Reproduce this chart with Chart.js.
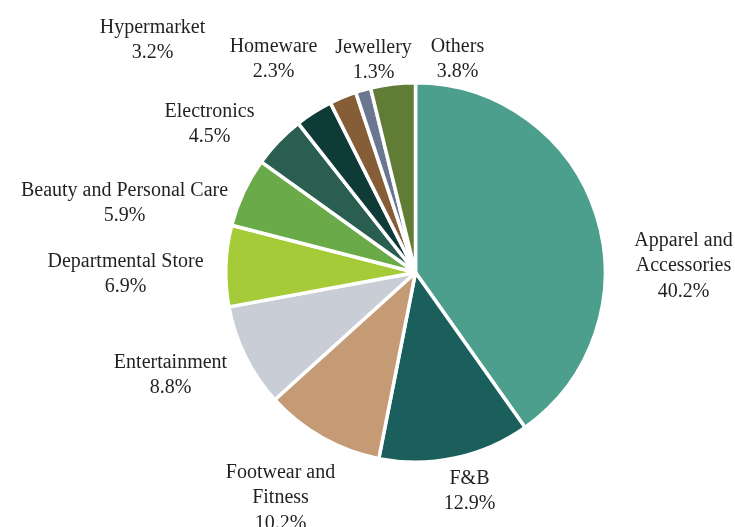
<!DOCTYPE html>
<html lang="en">

<head>
    <meta charset="UTF-8">
    <title>Retail Mix</title>
    <script src="https://cdn.jsdelivr.net/npm/chart.js"></script>
    <style>
        body {
            margin: 0;
            padding: 0;
            background: #ffffff;
        }

        #chart-container {
            position: relative;
            width: 735px;
            height: 527px;
        }
    </style>
</head>

<body>
    <div id="chart-container">
        <canvas id="chart"></canvas>
    </div>

    <script>
        // Data
        var categories = ['Apparel and Accessories', 'F&B', 'Footwear and Fitness', 'Entertainment',
            'Departmental Store', 'Beauty and Personal Care', 'Electronics', 'Hypermarket',
            'Homeware', 'Jewellery', 'Others'];
        var shares = [40.2, 12.9, 10.2, 8.8, 6.9, 5.9, 4.5, 3.2, 2.3, 1.3, 3.8];

        // how each label is broken into lines
        var labelLines = [['Apparel and', 'Accessories'], ['F&B'], ['Footwear and', 'Fitness'], ['Entertainment'],
            ['Departmental Store'], ['Beauty and Personal Care'], ['Electronics'], ['Hypermarket'],
            ['Homeware'], ['Jewellery'], ['Others']];

        var sliceColors = ['#4b9f8c', '#1a5f5c', '#c49b75', '#c9ced6', '#a5cb38', '#6aaa48',
            '#2a5e50', '#0e3a38', '#855e38', '#6b7791', '#617c35'];

        // label anchor (centre x, first baseline) relative to pie centre, in px
        var labelOffsets = [[268, -27], [54, 211], [-135, 205], [-245, 95], [-290, -6], [-291, -77],
            [-206, -156], [-263, -240], [-142, -221], [-42, -220], [42, -221]];

        var outsideLabels = {
            id: 'outsideLabels',
            afterDraw: function (chart) {
                var ctx = chart.ctx;
                var arc = chart.getDatasetMeta(0).data[0];
                var cx = arc.x, cy = arc.y;
                ctx.save();
                ctx.font = '20px "Liberation Serif", "Times New Roman", serif';
                ctx.fillStyle = '#231f20';
                ctx.textAlign = 'center';
                ctx.textBaseline = 'alphabetic';
                for (var i = 0; i < shares.length; i++) {
                    var lines = labelLines[i].concat([shares[i].toFixed(1) + '%']);
                    var x = cx + labelOffsets[i][0];
                    var y = cy + labelOffsets[i][1];
                    for (var j = 0; j < lines.length; j++) {
                        ctx.fillText(lines[j], x, y + j * 25.5);
                    }
                }
                ctx.restore();
            }
        };

        var ctx = document.getElementById('chart').getContext('2d');
        var chart = new Chart(ctx, {
            type: 'pie',
            data: {
                labels: categories,
                datasets: [{
                    data: shares,
                    backgroundColor: sliceColors,
                    borderColor: '#ffffff',
                    borderWidth: 3.5
                }]
            },
            options: {
                responsive: true,
                maintainAspectRatio: false,
                animation: false,
                layout: {
                    padding: { top: 81, bottom: 63, left: 224, right: 128 }
                },
                plugins: {
                    legend: { display: false },
                    tooltip: { enabled: false }
                }
            },
            plugins: [outsideLabels]
        });
    </script>
</body>

</html>
